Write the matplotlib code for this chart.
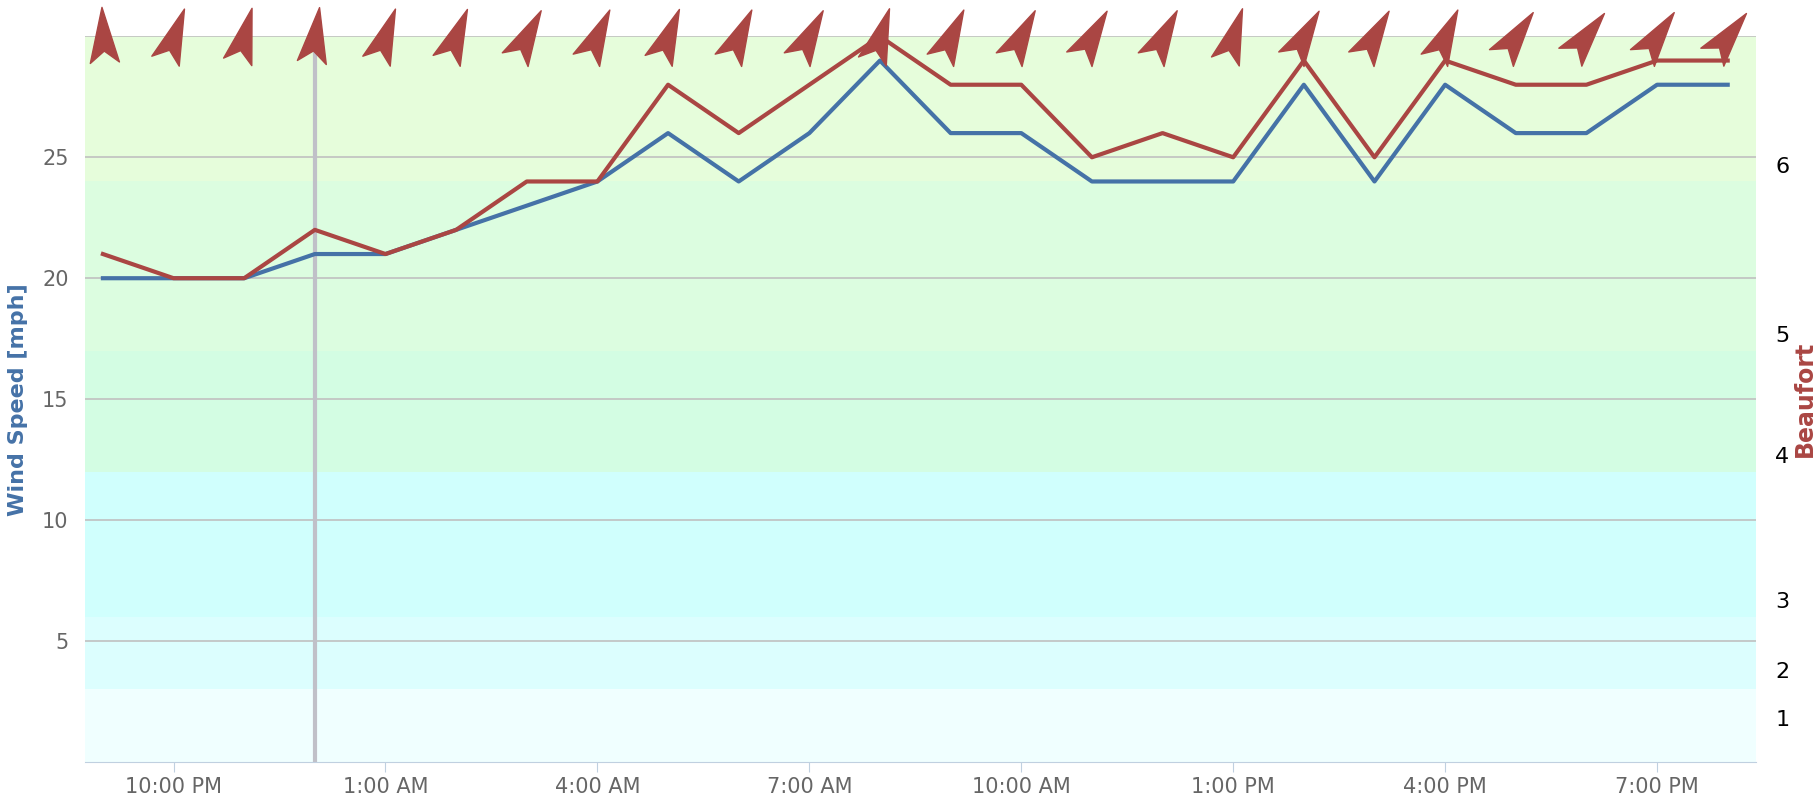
import matplotlib
matplotlib.use("Agg")
import matplotlib.pyplot as plt
import numpy as np
from matplotlib.path import Path
from matplotlib.markers import MarkerStyle
from matplotlib.transforms import Affine2D

hours = list(range(24))  # hours after 9:00 PM
speed = [20,20,20,21,21,22,23,24,26,24,26,29,26,26,24,24,24,28,24,28,26,26,28,28]
gust = [21,20,20,22,21,22,24,24,28,26,28,30,28,28,25,26,25,29,25,29,28,28,29,29]
direction = [-3,20,15,8,20,22,28,25,22,25,28,18,25,28,30,28,18,30,30,25,35,38,35,38]
xtick_pos = [1,4,7,10,13,16,19,22]
xtick_labels = ["10:00 PM","1:00 AM","4:00 AM","7:00 AM","10:00 AM","1:00 PM","4:00 PM","7:00 PM"]
band_edges = [0,3,6,12,17,24,31]
band_colors = ["#f0ffff","#dcfefe","#d0fffd","#d3fde3","#dcfde0","#e6fddb"]
beaufort_pos = [1.8,3.8,6.7,12.7,17.7,24.7]
beaufort_labels = ["1","2","3","4","5","6"]

fig = plt.figure(figsize=(18.14,8.08), dpi=100)
ax = fig.add_axes([0.047,0.057,0.921,0.898])
for i in range(len(band_colors)):
    ax.axhspan(band_edges[i], band_edges[i+1], color=band_colors[i], lw=0, zorder=0)
ax.set_xlim(-0.25, 23.4)
ax.set_ylim(0, 30)
ax.set_yticks([5,10,15,20,25,30])
ax.set_yticklabels(["5","10","15","20","25",""])
ax.grid(axis='y', color='#c0c0c0', lw=1.2, zorder=1)
ax.axvline(3, color='#c0c0c8', lw=3, zorder=2)
ax.plot(hours, speed, color='#4572a7', lw=3, zorder=3)
ax.plot(hours, gust, color='#aa4643', lw=3, zorder=4)

arrow = Path([(0,1),(0.5,-0.9),(0,-0.5),(-0.5,-0.9),(0,1)],
             [Path.MOVETO,Path.LINETO,Path.LINETO,Path.LINETO,Path.CLOSEPOLY])
for h, d in zip(hours, direction):
    m = MarkerStyle(arrow, transform=Affine2D().rotate_deg(-d))
    ax.plot([h],[30.0], marker=m, markersize=42, color='#aa4643', lw=0,
            clip_on=False, zorder=6)

ax.set_xticks(xtick_pos)
ax.set_xticklabels(xtick_labels)
ax.tick_params(axis='x', colors='#c0d0e0', labelcolor='#666666', labelsize=15, length=7)
ax.tick_params(axis='y', length=0, labelcolor='#666666', labelsize=15, pad=12)
for s in ['top','right','left']:
    ax.spines[s].set_visible(False)
ax.spines['bottom'].set_color('#c0d0e0')
ax.set_ylabel("Wind Speed [mph]", color='#4572a7', fontsize=16, fontweight='bold', labelpad=10)

ax2 = ax.twinx()
ax2.set_ylim(0,30)
ax2.set_yticks(beaufort_pos)
ax2.set_yticklabels(beaufort_labels)
ax2.tick_params(axis='y', length=0, labelsize=16, labelcolor='black', pad=14)
for s in ax2.spines.values():
    s.set_visible(False)
ax2.set_ylabel("Beaufort", color='#aa4643', fontsize=17, fontweight='bold', labelpad=2)

fig.savefig("out.png", dpi=100)
